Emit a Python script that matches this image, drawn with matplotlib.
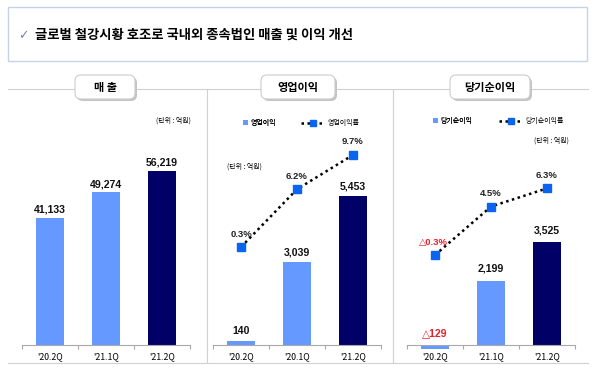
import matplotlib
matplotlib.use("Agg")
import matplotlib.pyplot as plt
from matplotlib.patches import FancyBboxPatch, Rectangle, Patch

plt.rcParams['font.family'] = ['Noto Sans CJK KR', 'DejaVu Sans']

# Data
quarters_sales = ["'20.2Q", "'21.1Q", "'21.2Q"]
quarters_op = ["'20.2Q", "'20.1Q", "'21.2Q"]
quarters_net = ["'20.2Q", "'21.1Q", "'21.2Q"]

sales = [41133, 49274, 56219]
op_profit = [140, 3039, 5453]
op_margin = [0.3, 6.2, 9.7]
net_profit = [-129, 2199, 3525]
net_margin = [-0.3, 4.5, 6.3]

LIGHT = "#6699FF"
DARK = "#000066"
MARK = "#0A64F0"
RED = "#E8202A"
bar_colors = [LIGHT, LIGHT, DARK]
NUM_FONT = ['Liberation Sans', 'DejaVu Sans']

W, H = 600, 371
fig = plt.figure(figsize=(6, 3.71), dpi=100)

# overlay axes in pixel units for frames and pills
bg = fig.add_axes([0, 0, 1, 1])
bg.set_xlim(0, W)
bg.set_ylim(H, 0)
bg.axis('off')

bg.add_patch(Rectangle((8, 7), 579, 54, fill=False, edgecolor="#C5D3E6", lw=1.0))
bg.text(23, 36, "\u2713", fontsize=9, color="#6F88AE", va='center', ha='center',
        family=['DejaVu Sans'])
bg.text(35, 35, "글로벌 철강시황 호조로 국내외 종속법인 매출 및 이익 개선",
        fontsize=9.6, fontweight='bold', va='center', ha='left')

bg.plot([8, 588], [89, 89], color="#D0D0D0", lw=0.8)
bg.plot([8, 588], [363, 363], color="#D0D0D0", lw=0.8)
bg.plot([207, 207], [89, 362], color="#D0D0D0", lw=0.8)
bg.plot([393, 393], [89, 362], color="#D0D0D0", lw=0.8)


def pill(cx, w, label):
    x0 = cx - w / 2
    shadow = FancyBboxPatch((x0 + 2, 77), w, 24, boxstyle="round,pad=0,rounding_size=6",
                            facecolor="#C4C4C4", edgecolor="none", zorder=3)
    box = FancyBboxPatch((x0, 75), w, 24, boxstyle="round,pad=0,rounding_size=6",
                         facecolor="white", edgecolor="#CCCCCC", lw=0.8, zorder=4)
    bg.add_patch(shadow)
    bg.add_patch(box)
    bg.text(cx, 87, label, fontsize=8, fontweight='bold', ha='center', va='center', zorder=5)


pill(105, 60, "매 출")
pill(298, 74, "영업이익")
pill(490, 80, "당기순이익")

TOP, BOT, ZERO = 130, 350, 345


def panel_axes(x_start, k):
    ax = fig.add_axes([x_start / W, 1 - BOT / H, 168 / W, (BOT - TOP) / H])
    ax.set_facecolor('none')
    ax.set_xlim(-0.5, 2.5)
    ax.set_ylim(-(BOT - ZERO) * k, (ZERO - TOP) * k)
    for s in ['top', 'right', 'left']:
        ax.spines[s].set_visible(False)
    ax.spines['bottom'].set_position(('data', 0))
    ax.spines['bottom'].set_color("#A8A8A8")
    ax.spines['bottom'].set_linewidth(0.8)
    ax.set_yticks([])
    ax.set_xticks([0, 1, 2])
    ax.set_xticks([-0.5, 0.5, 1.5, 2.5], minor=True)
    ax.tick_params(axis='x', which='major', length=0, pad=5, labelsize=6.3)
    ax.tick_params(axis='x', which='minor', length=3, color="#A8A8A8", width=0.8)
    return ax


def bar_labels(ax, vals, off_px):
    for i, v in enumerate(vals):
        top = max(v, 0)
        txt = f"{v:,}" if v >= 0 else f"\u25b3{abs(v):,}"
        ax.annotate(txt, (i, top), xytext=(0, off_px * 0.72), textcoords='offset points',
                    ha='center', va='center', fontsize=7.6, fontweight='bold',
                    color=RED if v < 0 else '#111111', family=NUM_FONT)


def line_axes(ax, zero_px, px_per):
    ax2 = ax.twinx()
    ax2.set_ylim(-(BOT - zero_px) / px_per, (zero_px - TOP) / px_per)
    ax2.axis('off')
    return ax2


def pct_labels(ax2, vals):
    for i, v in enumerate(vals):
        txt = f"{v}%" if v >= 0 else f"\u25b3{abs(v)}%"
        ax2.annotate(txt, (i, v), xytext=(-1 if v < 0 else 0, 13 * 0.72), textcoords='offset points',
                     ha='center', va='center', fontsize=6.8, fontweight='bold',
                     color=RED if v < 0 else '#222222', family=NUM_FONT)


# Panel 1: 매출
k1 = 322.9
ax1 = panel_axes(22, k1)
ax1.bar(range(3), sales, width=0.49, color=bar_colors)
ax1.set_xticklabels(quarters_sales)
bar_labels(ax1, sales, 8)
fig.text(173 / W, 1 - 121 / H, "(단위 : 억원)", fontsize=5, ha='center', va='center')

# Panel 2: 영업이익
k2 = 36.7
ax2 = panel_axes(213, k2)
ax2.bar(range(3), op_profit, width=0.49, color=bar_colors)
ax2.set_xticklabels(quarters_op)
bar_labels(ax2, op_profit, 10)
ax2l = line_axes(ax2, 250, 9.8)
l2, = ax2l.plot(range(3), op_margin, color='black', lw=1.8, ls=(0, (1, 1.4)),
                marker='s', ms=5.8, mfc=MARK, mec=MARK)
pct_labels(ax2l, op_margin)
fig.text(244 / W, 1 - 167 / H, "(단위 : 억원)", fontsize=5, ha='center', va='center')
lg = fig.legend([Patch(facecolor=LIGHT)], ["영업이익"], loc='center left',
                bbox_to_anchor=(240 / W, 1 - 123 / H), frameon=False, fontsize=5,
                handlelength=0.7, handleheight=0.9, handletextpad=0.3, borderpad=0)
fig.add_artist(lg)
fig.legend([l2], ["영업이익률"], loc='center left',
           bbox_to_anchor=(298 / W, 1 - 123 / H), frameon=False, fontsize=5,
           handlelength=3.4, handletextpad=0.3, borderpad=0, markerscale=0.8)

# Panel 3: 당기순이익
k3 = 34.3
ax3 = panel_axes(407, k3)
ax3.bar(range(3), net_profit, width=0.49, color=bar_colors)
ax3.set_xticklabels(quarters_net)
bar_labels(ax3, net_profit, 12)
ax3l = line_axes(ax3, 252, 10.1)
l3, = ax3l.plot(range(3), net_margin, color='black', lw=1.8, ls=(0, (1, 1.4)),
                marker='s', ms=5.8, mfc=MARK, mec=MARK)
pct_labels(ax3l, net_margin)
fig.text(551 / W, 1 - 141 / H, "(단위 : 억원)", fontsize=5, ha='center', va='center')
lg3 = fig.legend([Patch(facecolor=LIGHT)], ["당기순이익"], loc='center left',
                 bbox_to_anchor=(430 / W, 1 - 121 / H), frameon=False, fontsize=5,
                 handlelength=0.7, handleheight=0.9, handletextpad=0.3, borderpad=0)
fig.add_artist(lg3)
fig.legend([l3], ["당기순이익률"], loc='center left',
           bbox_to_anchor=(496 / W, 1 - 121 / H), frameon=False, fontsize=5,
           handlelength=3.4, handletextpad=0.3, borderpad=0, markerscale=0.8)

fig.savefig("out.png", dpi=100)
